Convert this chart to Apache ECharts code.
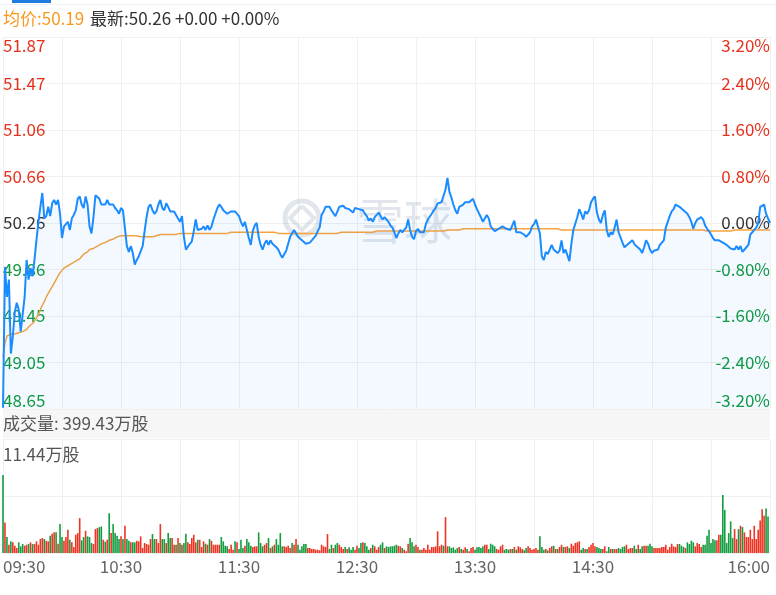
<!DOCTYPE html>
<html><head><meta charset="utf-8">
<script src="https://cdn.jsdelivr.net/npm/echarts@6/dist/echarts.min.js"></script>
<style>html,body{margin:0;padding:0;background:#fff}#c{width:776px;height:595px}</style>
</head><body><div id="c"></div>
<script>
const FONT = "'Noto Sans CJK SC', 'Noto Sans', sans-serif";
const FS = 17;
const prevClose = 50.26;
const headerAvg = '均价:50.19';
const headerLast = '最新:50.26 +0.00 +0.00%';
const volumeTotal = '成交量: 399.43万股';
const volumeMaxLabel = '11.44万股';
const priceMin = 48.65, priceMax = 51.87;
const volMax = 11.44;
const priceTickLabels = ['48.65','49.05','49.45','49.86','50.26','50.66','51.06','51.47','51.87'];
const pctTickLabels = ['-3.20%','-2.40%','-1.60%','-0.80%','0.00%','0.80%','1.60%','2.40%','3.20%'];
const timeTickLabels = {0:'09:30',60:'10:30',120:'11:30',180:'12:30',240:'13:30',300:'14:30',390:'16:00'};

// per-minute last price, 09:30 .. 16:00
const price = [
48.66,49.88,49.62,49.77,49.13,49.28,49.49,49.57,49.51,49.32,
49.31,49.62,49.94,49.77,49.87,49.80,49.94,50.11,50.27,50.40,
50.52,50.30,50.32,50.40,50.32,50.43,50.46,50.42,50.46,50.34,
50.13,50.23,50.24,50.27,50.20,50.30,50.33,50.37,50.47,50.49,
50.42,50.39,50.49,50.42,50.23,50.17,50.31,50.50,50.50,50.47,
50.42,50.43,50.42,50.46,50.42,50.43,50.42,50.39,50.37,50.34,
50.39,50.37,50.37,50.06,50.01,50.06,50.00,49.90,49.94,49.97,
49.97,50.06,50.19,50.31,50.40,50.42,50.37,50.34,50.36,50.42,
50.46,50.39,50.37,50.43,50.40,50.36,50.36,50.36,50.33,50.33,
50.27,50.32,50.14,50.03,50.03,50.08,50.10,50.19,50.29,50.20,
50.20,50.21,50.23,50.20,50.24,50.20,50.23,50.29,50.34,50.39,
50.42,50.40,50.37,50.36,50.34,50.34,50.36,50.37,50.36,50.37,
50.32,50.27,50.23,50.27,50.20,50.13,50.07,50.19,50.24,50.26,
50.14,50.07,50.03,50.08,50.11,50.07,50.11,50.08,50.08,50.05,
50.03,49.99,49.96,49.97,50.02,50.08,50.14,50.13,50.20,50.21,
50.14,50.13,50.11,50.10,50.08,50.09,50.09,50.11,50.11,50.15,
50.19,50.22,50.33,50.36,50.40,50.41,50.40,50.37,50.37,50.32,
50.31,50.40,50.40,50.41,50.39,50.39,50.38,50.37,50.35,50.39,
50.40,50.38,50.37,50.37,50.34,50.32,50.28,50.30,50.27,50.31,
50.33,50.35,50.32,50.29,50.31,50.30,50.27,50.24,50.22,50.18,
50.13,50.17,50.20,50.18,50.20,50.22,50.29,50.20,50.14,50.12,
50.19,50.21,50.18,50.18,50.18,50.25,50.29,50.30,50.34,50.37,
50.39,50.43,50.43,50.44,50.43,50.55,50.65,50.53,50.48,50.42,
50.37,50.34,50.40,50.39,50.42,50.44,50.43,50.44,50.44,50.47,
50.42,50.38,50.37,50.31,50.27,50.28,50.33,50.30,50.23,50.21,
50.19,50.19,50.21,50.21,50.23,50.22,50.21,50.20,50.20,50.19,
50.28,50.18,50.18,50.18,50.18,50.16,50.14,50.15,50.18,50.23,
50.25,50.29,50.29,50.17,49.97,49.94,50.01,49.99,50.03,50.07,
50.03,50.03,50.00,50.02,50.11,50.00,50.03,50.03,49.93,50.08,
50.20,50.20,50.31,50.38,50.34,50.29,50.36,50.34,50.37,50.44,
50.47,50.49,50.35,50.29,50.26,50.33,50.37,50.20,50.14,50.18,
50.16,50.22,50.29,50.18,50.17,50.09,50.05,50.06,50.08,50.09,
50.11,50.08,50.06,50.07,50.03,50.00,50.05,50.11,50.08,50.03,
50.00,50.02,50.03,50.03,50.07,50.07,50.11,50.22,50.27,50.32,
50.36,50.38,50.42,50.42,50.40,50.39,50.37,50.38,50.34,50.31,
50.27,50.21,50.26,50.29,50.29,50.31,50.29,50.24,50.21,50.19,
50.16,50.13,50.11,50.11,50.11,50.10,50.09,50.08,50.07,50.06,
50.04,50.03,50.03,50.06,50.03,50.06,50.01,50.02,50.05,50.07,
50.16,50.18,50.20,50.22,50.26,50.40,50.40,50.42,50.34,50.30,50.26
];

// per-minute average price
const avgPrice = [
49.10,49.22,49.28,49.29,49.30,49.30,49.30,49.31,49.31,49.32,
49.32,49.33,49.34,49.36,49.37,49.39,49.41,49.42,49.47,49.51,
49.55,49.58,49.62,49.65,49.68,49.71,49.74,49.77,49.80,49.83,
49.85,49.87,49.88,49.89,49.90,49.91,49.92,49.93,49.94,49.95,
49.97,49.99,50.00,50.01,50.03,50.03,50.04,50.04,50.06,50.07,
50.08,50.09,50.09,50.10,50.11,50.11,50.12,50.13,50.14,50.14,
50.15,50.15,50.15,50.15,50.15,50.15,50.15,50.15,50.15,50.15,
50.14,50.14,50.14,50.14,50.14,50.14,50.14,50.15,50.15,50.15,
50.16,50.16,50.16,50.16,50.16,50.16,50.16,50.16,50.16,50.17,
50.17,50.17,50.17,50.17,50.17,50.17,50.17,50.17,50.17,50.17,
50.17,50.17,50.17,50.17,50.17,50.17,50.17,50.17,50.17,50.17,
50.17,50.17,50.17,50.17,50.17,50.18,50.18,50.18,50.18,50.18,
50.18,50.18,50.18,50.18,50.18,50.18,50.18,50.18,50.18,50.18,
50.18,50.18,50.18,50.18,50.18,50.18,50.18,50.18,50.18,50.18,
50.17,50.17,50.17,50.17,50.17,50.17,50.17,50.17,50.17,50.17,
50.17,50.17,50.17,50.17,50.17,50.17,50.17,50.17,50.17,50.17,
50.17,50.17,50.17,50.17,50.17,50.17,50.17,50.17,50.17,50.17,
50.17,50.17,50.18,50.18,50.18,50.18,50.18,50.18,50.18,50.18,
50.18,50.18,50.18,50.18,50.18,50.18,50.18,50.18,50.18,50.19,
50.19,50.19,50.19,50.19,50.19,50.19,50.19,50.19,50.19,50.19,
50.19,50.19,50.19,50.19,50.19,50.19,50.19,50.19,50.19,50.19,
50.19,50.19,50.19,50.19,50.19,50.19,50.19,50.19,50.19,50.19,
50.19,50.19,50.19,50.19,50.19,50.19,50.20,50.20,50.20,50.20,
50.20,50.20,50.20,50.20,50.21,50.21,50.21,50.21,50.21,50.21,
50.21,50.21,50.21,50.21,50.21,50.21,50.21,50.21,50.21,50.21,
50.21,50.21,50.21,50.21,50.21,50.21,50.21,50.21,50.21,50.21,
50.21,50.21,50.21,50.21,50.21,50.21,50.21,50.21,50.21,50.21,
50.21,50.21,50.21,50.21,50.21,50.21,50.21,50.21,50.21,50.21,
50.21,50.21,50.21,50.21,50.20,50.20,50.20,50.20,50.20,50.20,
50.20,50.20,50.20,50.20,50.20,50.20,50.20,50.20,50.20,50.20,
50.20,50.20,50.20,50.20,50.20,50.20,50.20,50.20,50.20,50.20,
50.20,50.20,50.20,50.20,50.20,50.20,50.20,50.20,50.20,50.20,
50.20,50.20,50.20,50.20,50.20,50.20,50.20,50.20,50.20,50.20,
50.20,50.20,50.20,50.20,50.20,50.20,50.20,50.20,50.20,50.20,
50.20,50.20,50.20,50.20,50.20,50.20,50.20,50.20,50.20,50.20,
50.20,50.20,50.20,50.20,50.20,50.20,50.20,50.20,50.19,50.19,
50.19,50.19,50.19,50.19,50.19,50.19,50.19,50.19,50.19,50.19,
50.19,50.19,50.20,50.20,50.20,50.20,50.20,50.20,50.20,50.20,
50.20,50.20,50.20,50.20,50.20,50.20,50.20,50.20,50.20,50.20,50.20
];

// per-minute volume, 万股
const volume = [
7.83,3.07,1.60,0.83,1.17,1.07,0.73,0.50,1.07,0.67,
0.90,0.73,0.83,0.90,1.07,0.90,0.90,1.17,0.83,1.40,
1.50,1.40,1.23,1.17,1.73,1.93,2.07,2.07,0.93,2.90,
1.60,1.23,1.60,2.33,1.33,1.07,0.60,1.83,2.00,3.50,
1.27,1.60,2.23,1.67,1.60,1.00,0.90,2.40,2.50,2.60,
2.67,1.33,1.13,1.33,4.00,2.00,2.90,2.00,1.73,1.40,
1.67,1.40,2.73,1.40,1.23,1.07,1.07,1.07,1.23,1.17,
1.67,0.50,1.00,0.90,0.83,1.40,1.90,1.40,1.40,1.00,
2.90,1.40,1.40,1.00,2.00,1.50,1.50,0.83,0.83,1.50,
1.00,0.83,1.00,1.93,1.07,0.90,1.50,1.83,1.07,1.33,
1.33,0.60,1.17,0.93,0.83,1.40,1.23,0.83,0.83,0.83,
0.83,1.60,1.17,0.73,0.67,0.40,0.83,0.33,1.17,1.07,
0.40,1.33,0.50,0.73,1.40,1.07,0.73,0.60,0.67,0.67,
2.07,1.00,0.67,0.83,1.00,1.50,0.50,0.67,0.83,1.40,
0.83,2.00,0.67,0.67,0.60,0.73,0.50,1.00,0.83,1.40,
0.83,0.33,0.67,0.90,0.90,0.50,0.50,0.40,0.40,0.33,
0.33,0.27,0.83,0.67,0.60,1.90,0.40,0.83,0.50,0.83,
1.00,0.83,0.60,0.40,0.60,0.40,0.57,0.33,0.60,0.33,
0.73,0.50,1.00,1.07,1.00,0.67,0.33,0.50,0.83,0.67,
0.33,0.60,0.83,1.07,0.50,0.67,0.60,0.67,0.67,0.73,
0.83,0.73,0.67,0.50,0.33,0.17,0.93,1.50,1.07,0.67,
0.83,0.60,0.33,0.33,0.50,0.33,0.83,0.33,0.60,0.60,
0.67,2.17,0.67,0.83,0.73,3.60,0.67,0.67,0.50,0.57,
0.33,0.50,0.60,0.40,0.33,0.57,0.40,0.17,0.50,0.60,
0.33,0.57,0.60,0.50,0.67,0.83,0.83,0.40,0.93,0.83,
0.67,0.40,0.33,0.67,0.83,0.33,0.40,0.33,0.40,0.40,
0.60,0.33,0.67,0.57,0.40,0.27,0.50,0.67,0.50,0.33,
0.40,0.50,0.33,1.67,0.60,0.33,0.40,0.27,0.50,0.67,
0.73,0.40,0.40,0.60,0.83,0.60,0.60,0.67,0.50,0.93,
0.73,1.00,1.07,1.17,0.33,0.50,0.40,0.40,0.60,0.83,
1.00,0.67,0.60,0.50,0.40,0.40,0.67,0.17,0.60,0.40,
0.40,0.40,0.40,0.50,0.40,0.60,0.67,0.83,0.40,0.50,
0.50,0.73,0.40,0.83,0.40,0.67,0.73,0.73,0.73,0.93,
0.67,0.50,0.50,0.50,0.50,0.60,0.60,0.83,0.33,0.60,
0.93,0.67,0.60,0.90,0.90,0.73,0.60,0.50,1.07,0.90,
1.23,1.07,0.67,1.00,0.90,0.60,0.83,0.83,1.73,2.33,
1.00,1.40,1.27,1.27,1.83,1.83,5.83,4.33,1.00,2.00,
3.17,1.50,2.40,1.40,2.40,2.73,2.60,2.07,1.60,1.60,
2.33,1.40,2.73,1.40,2.33,3.27,4.40,3.73,4.47,3.67
];

// minute categories 09:30 .. 16:00
const times = [];
for (let m = 0; m <= 390; m++) {
  const t = 9 * 60 + 30 + m;
  times.push(String(Math.floor(t / 60)).padStart(2, '0') + ':' + String(t % 60).padStart(2, '0'));
}

const RED = '#ee3322', GREEN = '#119d3f';
const volData = volume.map((v, i) => {
  const ref = i === 0 ? prevClose : price[i - 1];
  return { value: v, itemStyle: { color: price[i] >= ref ? RED : GREEN } };
});

const pctIndex = v => Math.round((v + 3.2) / 0.8);
const styleKey = i => i > 4 ? 'up' : (i < 4 ? 'dn' : 'eq');
const rich = {
  up: { color: '#e5321c', fontSize: FS, fontFamily: FONT },
  dn: { color: '#109a3e', fontSize: FS, fontFamily: FONT },
  eq: { color: '#333333', fontSize: FS, fontFamily: FONT }
};
const gridLine = { show: true, lineStyle: { color: '#f0f0f0', width: 1 } };
const WM = 'rgba(140,155,180,0.26)';

const chart = echarts.init(document.getElementById('c'), null, { renderer: 'canvas' });
chart.setOption({
  animation: false,
  backgroundColor: '#ffffff',
  grid: [
    { left: 3, right: 6, top: 37, height: 372 },
    { left: 3, right: 6, top: 439, height: 114 }
  ],
  xAxis: [
    { type: 'category', gridIndex: 0, data: times, boundaryGap: false,
      axisLine: { show: false }, axisTick: { show: false }, axisLabel: { show: false },
      splitLine: { show: true, interval: i => i % 30 === 0, lineStyle: { color: '#f0f0f0' } } },
    { type: 'category', gridIndex: 1, data: times, boundaryGap: false,
      axisLine: { show: false }, axisTick: { show: false },
      axisLabel: { show: true, interval: i => timeTickLabels[i] !== undefined,
        formatter: (v, i) => timeTickLabels[i] || '', color: '#666', fontSize: FS, fontFamily: FONT,
        margin: 5, alignMinLabel: 'left', alignMaxLabel: 'right' },
      splitLine: { show: true, interval: i => i % 30 === 0, lineStyle: { color: '#f0f0f0' } } }
  ],
  yAxis: [
    { type: 'value', gridIndex: 0, min: priceMin, max: priceMax, show: false, splitLine: { show: false } },
    { type: 'value', gridIndex: 0, min: -3.2, max: 3.2, interval: 0.8, position: 'left',
      axisLine: { show: false }, axisTick: { show: false }, splitLine: gridLine,
      axisLabel: { inside: true, margin: 0, verticalAlignMinLabel: 'bottom', verticalAlignMaxLabel: 'top',
        formatter: v => { const i = pctIndex(v); return '{' + styleKey(i) + '|' + priceTickLabels[i] + '}'; }, rich } },
    { type: 'value', gridIndex: 0, min: -3.2, max: 3.2, interval: 0.8, position: 'right',
      axisLine: { show: false }, axisTick: { show: false }, splitLine: { show: false },
      axisLabel: { inside: true, margin: 0, verticalAlignMinLabel: 'bottom', verticalAlignMaxLabel: 'top',
        formatter: v => { const i = pctIndex(v); return '{' + styleKey(i) + '|' + pctTickLabels[i] + '}'; }, rich } },
    { type: 'value', gridIndex: 1, min: 0, max: volMax, interval: volMax / 2,
      axisLine: { show: false }, axisTick: { show: false }, axisLabel: { show: false }, splitLine: gridLine }
  ],
  series: [
    { type: 'line', name: 'price', xAxisIndex: 0, yAxisIndex: 0, data: price, showSymbol: false, z: 3,
      lineStyle: { color: '#1a8cff', width: 2 }, itemStyle: { color: '#1a8cff' },
      areaStyle: { color: 'rgba(30,140,250,0.07)', origin: 'start' } },
    { type: 'line', name: 'avg', xAxisIndex: 0, yAxisIndex: 0, data: avgPrice, showSymbol: false, z: 2,
      lineStyle: { color: '#f7a23b', width: 1.5 }, itemStyle: { color: '#f7a23b' } },
    { type: 'bar', name: 'volume', xAxisIndex: 1, yAxisIndex: 3, data: volData, barWidth: 1.6 }
  ],
  graphic: [
    { type: 'rect', shape: { x: 12, y: 0, width: 39, height: 3 }, style: { fill: '#1e7be0' } },
    { type: 'rect', shape: { x: 0, y: 4, width: 776, height: 1 }, style: { fill: '#f0f0f0' } },
    { type: 'text', style: { text: headerAvg, x: 3, y: 19, fill: '#f59a23', font: FS + 'px ' + FONT, verticalAlign: 'middle' } },
    { type: 'text', style: { text: headerLast, x: 90, y: 19, fill: '#333333', font: FS + 'px ' + FONT, verticalAlign: 'middle' } },
    { type: 'rect', shape: { x: 3, y: 410, width: 767, height: 28 }, style: { fill: '#f6f6f6' } },
    { type: 'text', style: { text: volumeTotal, x: 3, y: 424, fill: '#555555', font: FS + 'px ' + FONT, verticalAlign: 'middle' } },
    { type: 'text', style: { text: volumeMaxLabel, x: 3, y: 455, fill: '#555555', font: FS + 'px ' + FONT, verticalAlign: 'middle' } },
    { type: 'circle', shape: { cx: 302, cy: 218, r: 17 }, style: { fill: 'none', stroke: WM, lineWidth: 5 }, z: 1 },
    { type: 'polyline', shape: { points: [[302, 206], [314, 218], [302, 230], [290, 218], [302, 206]] }, style: { fill: 'none', stroke: WM, lineWidth: 4 }, z: 1 },
    { type: 'text', style: { text: '雪球', x: 356, y: 221, fill: WM, font: '48px ' + FONT, verticalAlign: 'middle' }, z: 1 }
  ]
});
</script>
</body></html>
